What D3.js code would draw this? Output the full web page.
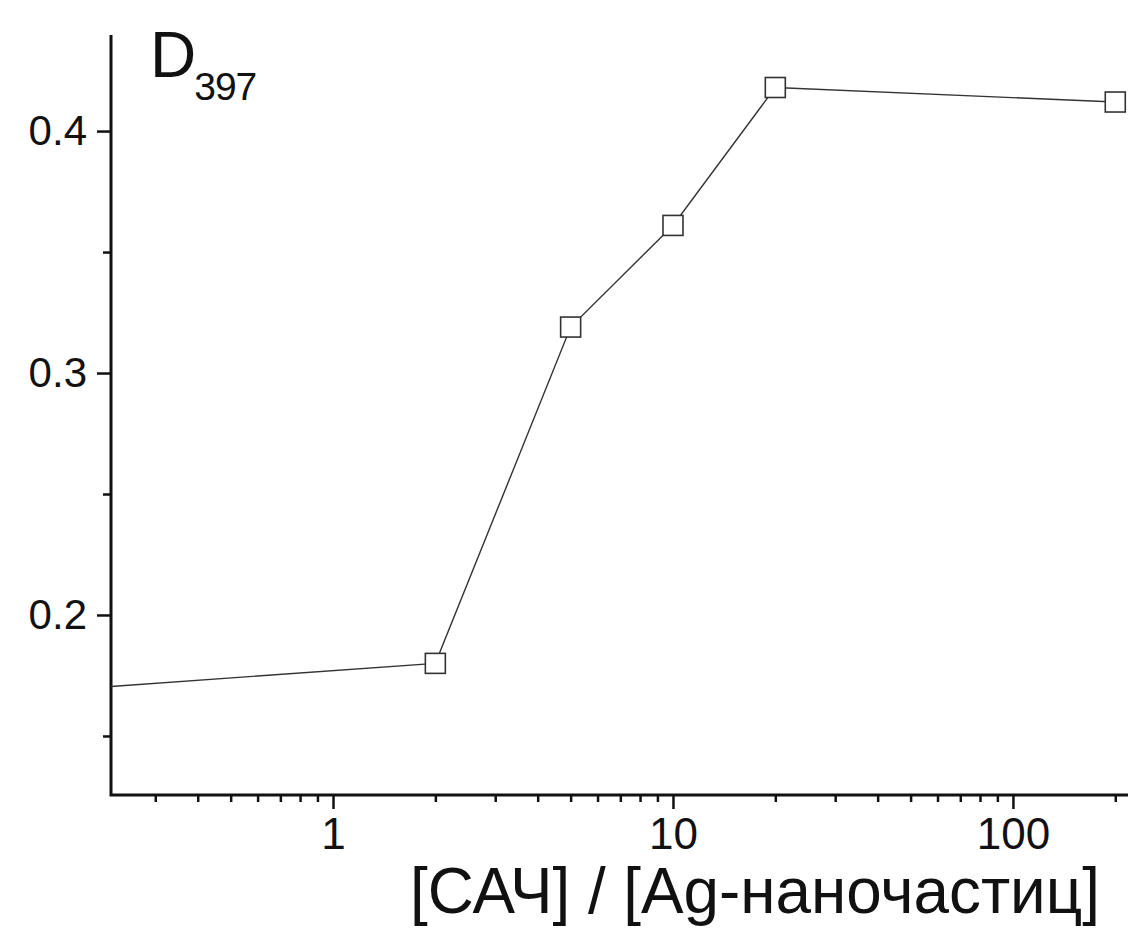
<!DOCTYPE html>
<html>
<head>
<meta charset="utf-8">
<script src="https://cdn.jsdelivr.net/npm/d3@7"></script>
<style>
  body { margin: 0; background: #fff; }
  svg text { font-family: "Liberation Sans", Arial, sans-serif; fill: #111; }
</style>
</head>
<body>
<div id="chart"></div>
<script>
var width = 1128;
var height = 928;

// data
var ratio = [0.2, 2, 5, 10, 20, 200];
var absorbance = [0.170, 0.180, 0.319, 0.361, 0.418, 0.412];

var xTickValues = [1, 10, 100];
var yTickValues = [0.2, 0.3, 0.4];
var yMinorValues = [0.15, 0.25, 0.35];

var points = ratio.map(function (r, i) {
  return { x: r, y: absorbance[i] };
});

var plotLeft = 111, plotTop = 35, plotBottom = 795, plotRight = 1128;

var xScale = d3.scaleLog().domain([0.2223, 218]).range([plotLeft, plotRight]);
var yScale = d3.scaleLinear().domain([0.1256, 0.4397]).range([plotBottom, plotTop]);

// minor ticks for the log axis: 2..9 of each decade
var xMinor = [];
[0.1, 1, 10, 100].forEach(function (dec) {
  for (var k = 2; k <= 9; ++k) {
    var v = dec * k;
    if (v > 0.2223 && v < 218) xMinor.push(v);
  }
});

var svg = d3.select("#chart")
  .append("svg")
  .attr("width", width)
  .attr("height", height);

svg.append("defs").append("clipPath")
  .attr("id", "plotclip")
  .append("rect")
  .attr("x", plotLeft)
  .attr("y", plotTop)
  .attr("width", plotRight - plotLeft)
  .attr("height", plotBottom - plotTop);

// x axis
var xAxis = d3.axisBottom(xScale)
  .tickValues(xTickValues)
  .tickFormat(d3.format("d"))
  .tickSize(14)
  .tickPadding(9);

var gx = svg.append("g")
  .attr("transform", "translate(0," + plotBottom + ")")
  .call(xAxis);
gx.select(".domain").remove();
gx.selectAll(".tick line").attr("stroke", "#111").attr("stroke-width", 2.5);
gx.selectAll(".tick text").attr("font-size", "44px");

var gxMinor = svg.append("g")
  .attr("transform", "translate(0," + plotBottom + ")")
  .call(d3.axisBottom(xScale).tickValues(xMinor).tickSize(7).tickFormat(""));
gxMinor.select(".domain").remove();
gxMinor.selectAll(".tick line").attr("stroke", "#111").attr("stroke-width", 2.5);

// y axis
var yAxis = d3.axisLeft(yScale)
  .tickValues(yTickValues)
  .tickFormat(d3.format(".1f"))
  .tickSize(14)
  .tickPadding(10);

var gy = svg.append("g")
  .attr("transform", "translate(" + plotLeft + ",0)")
  .call(yAxis);
gy.select(".domain").remove();
gy.selectAll(".tick line").attr("stroke", "#111").attr("stroke-width", 2.5);
gy.selectAll(".tick text").attr("font-size", "42px");

var gyMinor = svg.append("g")
  .attr("transform", "translate(" + plotLeft + ",0)")
  .call(d3.axisLeft(yScale).tickValues(yMinorValues).tickSize(8).tickFormat(""));
gyMinor.select(".domain").remove();
gyMinor.selectAll(".tick line").attr("stroke", "#111").attr("stroke-width", 2.5);

// axis lines
svg.append("path")
  .attr("d", "M" + plotLeft + "," + plotTop + "V" + plotBottom + "H" + plotRight)
  .attr("fill", "none")
  .attr("stroke", "#111")
  .attr("stroke-width", 3);

// data
var plot = svg.append("g").attr("clip-path", "url(#plotclip)");

var line = d3.line()
  .x(function (d) { return xScale(d.x); })
  .y(function (d) { return yScale(d.y); });

plot.append("path")
  .datum(points)
  .attr("d", line)
  .attr("fill", "none")
  .attr("stroke", "#333")
  .attr("stroke-width", 1.4);

var size = 20;
plot.selectAll(".marker")
  .data(points)
  .enter()
  .append("rect")
  .attr("class", "marker")
  .attr("x", function (d) { return xScale(d.x) - size / 2; })
  .attr("y", function (d) { return yScale(d.y) - size / 2; })
  .attr("width", size)
  .attr("height", size)
  .attr("fill", "#fff")
  .attr("stroke", "#333")
  .attr("stroke-width", 1.6);

// labels
var yLabel = svg.append("text")
  .attr("x", 150)
  .attr("y", 77)
  .attr("font-size", "64px");
yLabel.append("tspan").text("D");
yLabel.append("tspan")
  .attr("font-size", "39px")
  .attr("dx", "-2")
  .attr("dy", "23")
  .attr("letter-spacing", "-1")
  .text("397");

svg.append("text")
  .attr("x", 1100)
  .attr("y", 913)
  .attr("text-anchor", "end")
  .attr("font-size", "64px")
  .attr("textLength", 690)
  .attr("lengthAdjust", "spacingAndGlyphs")
  .text("[САЧ] / [Ag-наночастиц]");
</script>
</body>
</html>
